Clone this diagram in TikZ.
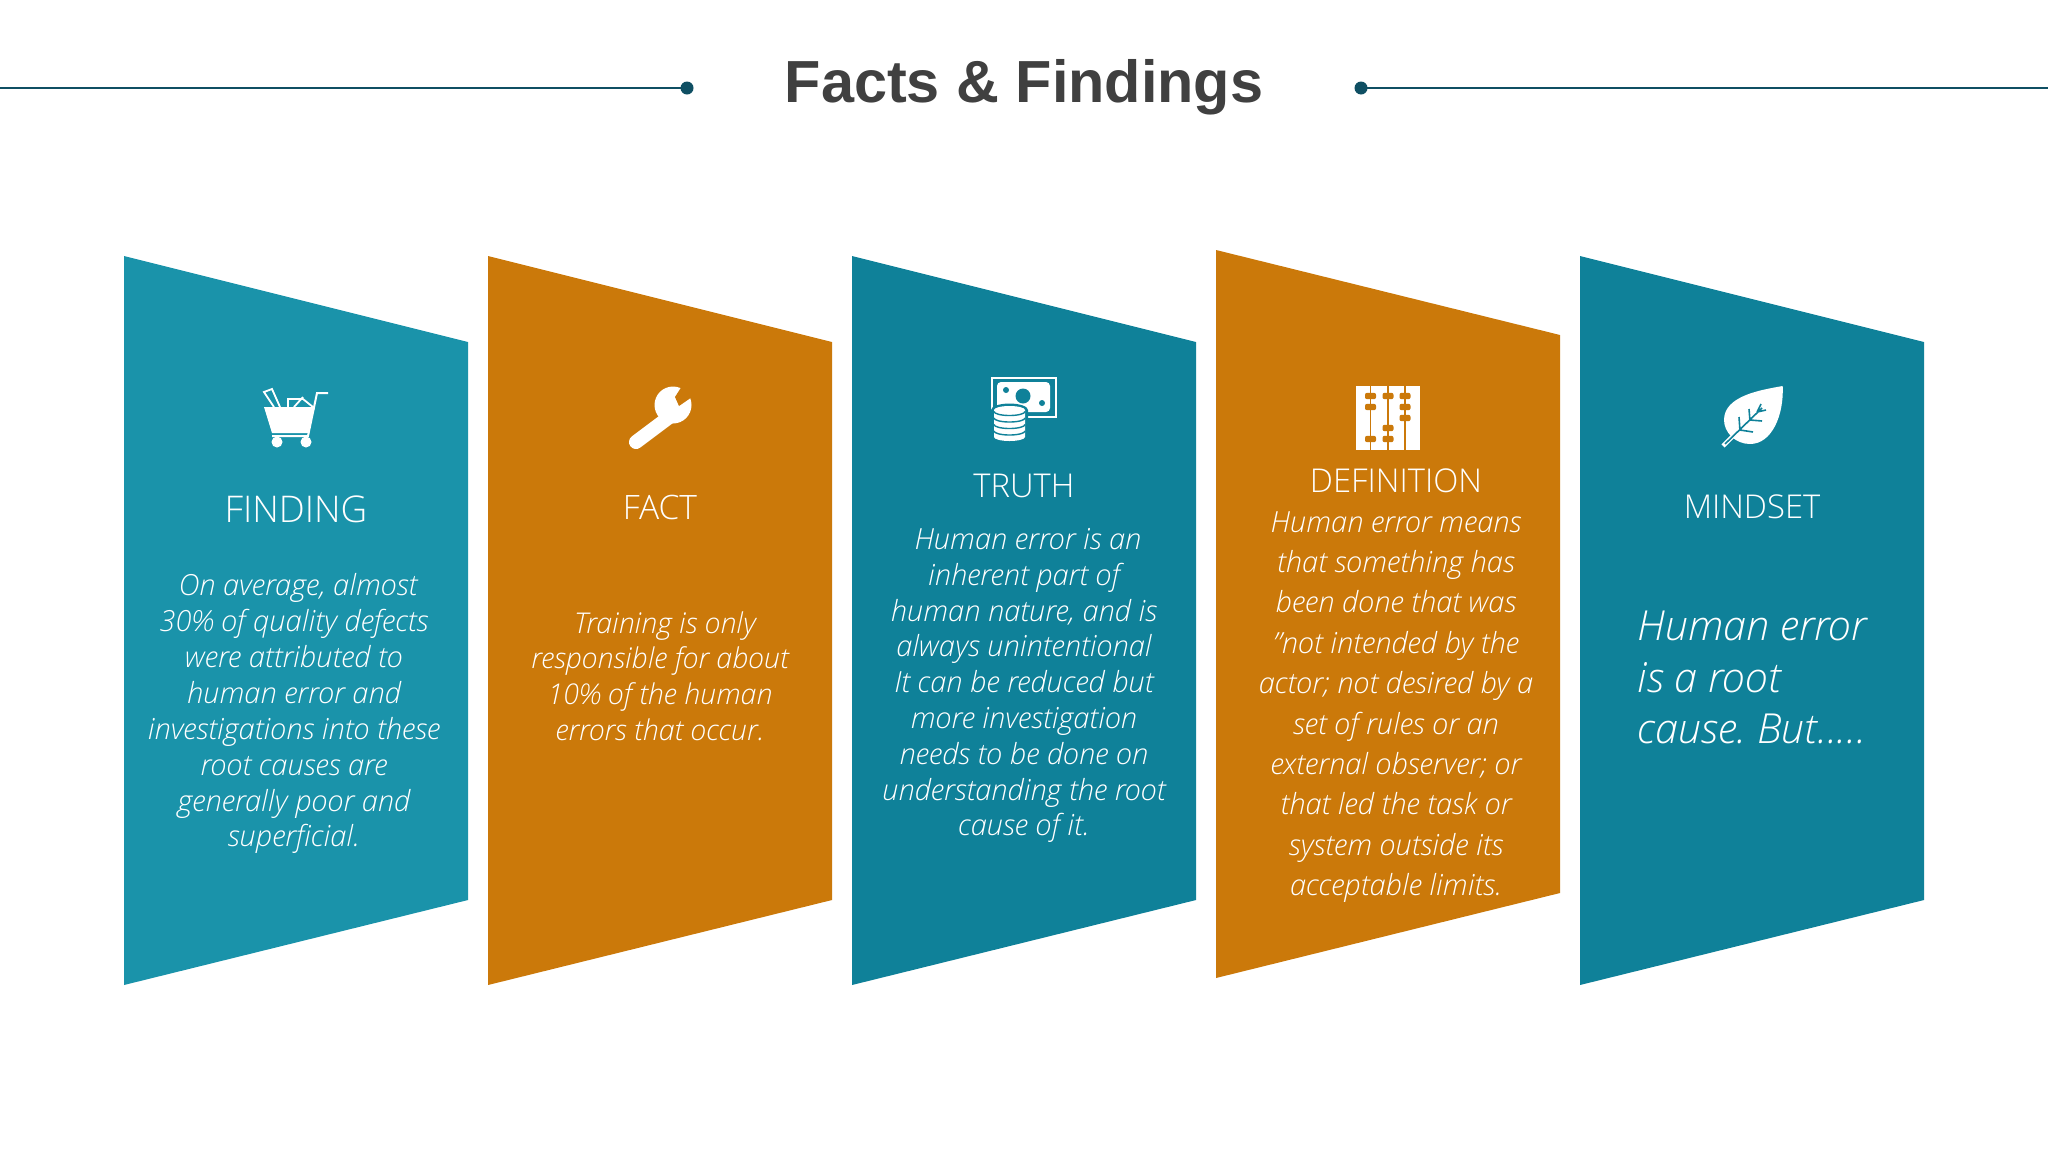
\documentclass[tikz,border=0pt]{standalone}
\usepackage{fontspec}
\setmainfont{Open Sans Light}
\newfontfamily\titlefont{Liberation Sans}
\definecolor{tealA}{HTML}{1A93AA}
\definecolor{tealB}{HTML}{0F8199}
\definecolor{ora}{HTML}{CB790A}
\definecolor{ruleC}{HTML}{0F4F63}
\begin{document}
\frenchspacing
\begin{tikzpicture}[x=0.5pt,y=-0.5pt,
 head/.style={text=white,font=\fontsize{16.4}{18}\selectfont,inner sep=0},
 body/.style={text=white,align=center,inner sep=0,anchor=north,font=\itshape\fontsize{14.55}{17.9}\selectfont}]
\useasboundingbox (0,0) rectangle (2048,1152);
\fill[white] (0,0) rectangle (2048,1152);
\node[font=\titlefont\bfseries\fontsize{29.7}{32}\selectfont,text=black!75,inner sep=0] (title) at (1024,87) {Facts \& Findings};
\coordinate (la) at (0,88); \coordinate (ra) at (2048,88);
\fill[ruleC] (687,88) circle (6.5) coordinate (lb);
\fill[ruleC] (1361,88) circle (6.5) coordinate (rb);
\draw[ruleC,line width=1pt] (la)--(lb) (rb)--(ra);
\fill[tealA] (124,256)--(468,342)--(468,900)--(124,985)--cycle;
\fill[ora] (488,256)--(832,342)--(832,900)--(488,985)--cycle;
\fill[tealB] (852,256)--(1196,342)--(1196,900)--(852,985)--cycle;
\fill[ora] (1216,250)--(1560,335)--(1560,893)--(1216,978)--cycle;
\fill[tealB] (1580,256)--(1924,342)--(1924,900)--(1580,985)--cycle;
\node[head,font=\fontsize{18.4}{20}\selectfont] (h1) at (296,509) {FINDING};
\node[head,font=\fontsize{16.8}{18}\selectfont] (h2) at (660,507) {FACT};
\node[head] (h3) at (1024,486) {TRUTH};
\node[head] (h4) at (1396,481) {DEFINITION};
\node[head] (h5) at (1752,507) {MINDSET};
\node[body,font=\itshape\fontsize{14.55}{17.96}\selectfont] (b1) at (294,573) {\hspace*{4pt}On average, almost\\30\% of quality defects\\were attributed to\\human error and\\investigations into these\\root causes are\\generally poor and\\superficial.};
\node[body,font=\itshape\fontsize{14.3}{17.85}\selectfont] (b2) at (660,611) {\hspace*{5pt}Training is only\\responsible for about\\10\% of the human\\errors that occur.};
\node[body] (b3) at (1024,528) {\hspace*{4pt}Human error is an\\inherent part of\\human nature, and is\\always unintentional\\It can be reduced but\\more investigation\\needs to be done on\\understanding the root\\cause of it.};
\node[body,font=\itshape\fontsize{14.55}{20.2}\selectfont] (b4) at (1396,511) {Human error means\\that something has\\been done that was\\\symbol{34}not intended by the\\actor; not desired by a\\set of rules or an\\external observer; or\\that led the task or\\system outside its\\acceptable limits.};
\node[body,align=left,font=\itshape\fontsize{20.7}{25.6}\selectfont] (b5) at (1752,611) {Human error\\is a root\\cause. But.....};
% cart
\fill[white] (264,407)--(315,407)--(308,433)--(272,433)--cycle;
\draw[white,line width=1pt] (272,436)--(308,436)--(317,393)--(328,393);
\fill[white] (277,442) circle (5.5) (306,442) circle (5.5);
\draw[white,line width=.9pt] (274,407)--(264,392)--(272,389)--(280,407);
\draw[white,line width=.9pt] (288,407)--(288,399)--(303,399)--(313,407) (294,407)--(303,397);
% wrench
\fill[white] (673,405) circle (18.5);
\draw[white,line width=7pt,line cap=round] (668,418)--(636,442);
\fill[ora] (682,386)--(675,397)--(679,406)--(692,397)--(700,380)--cycle;
% money
\draw[white,line width=1pt] (992,377.5) rectangle (1055.5,417);
\fill[white,rounded corners=2pt] (997,382) rectangle (1050,412);
\fill[tealB] (1023,396) circle (7.5) (1006,390) circle (3) (1042,403) circle (3);
\fill[tealB] (991,410) arc[start angle=180,end angle=0,x radius=18.5,y radius=-6.5] -- (1028,437) arc[start angle=0,end angle=180,x radius=18.5,y radius=6.5] -- cycle;
\fill[white] (994,410) arc[start angle=180,end angle=0,x radius=15.5,y radius=-4] -- (1025,437) arc[start angle=0,end angle=180,x radius=15.5,y radius=4] -- cycle;
\foreach \yy in {411.5,418,424.5,431}{\draw[tealB,line width=.7pt] (994,\yy) arc[start angle=180,end angle=0,x radius=15.5,y radius=4];}
% abacus
\fill[white] (1356,386) rectangle (1420,450);
\foreach \xx in {1370.5,1388,1405}{\draw[ora,line width=.8pt] (\xx,386)--(\xx,450);}
\foreach \xx/\yy in {1370.5/396,1370.5/407,1370.5/439,1388/396,1388/428,1388/439,1405/396,1405/407,1405/418}{\fill[ora,rounded corners=1pt] (\xx-5.5,\yy-3.2) rectangle (\xx+5.5,\yy+3.2);}
% leaf
\fill[white] (1782.7,386) .. controls (1760,390) and (1724,396) .. (1724,420) .. controls (1724,432) and (1735,444) .. (1750,444) .. controls (1772,444) and (1784,415) .. (1782.7,386) -- cycle;
\draw[white,line width=2.2pt] (1723,446)--(1734,435);
\draw[tealB,line width=.8pt] (1725,444)--(1762,408) (1750,421)--(1749,409) (1750,420)--(1762,421) (1740,431)--(1739,417) (1740,430)--(1753,432) (1757,412)--(1761,404) (1757,412)--(1766,410);
\end{tikzpicture}
\end{document}
